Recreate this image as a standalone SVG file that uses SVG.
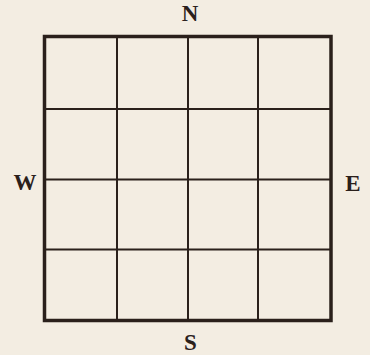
<svg xmlns="http://www.w3.org/2000/svg" width="370" height="355" viewBox="0 0 370 355">
  <style>
    .bg { fill: #f3ede2; }
    .outer { fill: none; stroke: #2a201b; stroke-width: 3.5; stroke-linejoin: miter; }
    .inner { stroke: #2a201b; stroke-width: 2; fill: none; }
    .lbl { font-family: "Liberation Serif", "Times New Roman", serif; font-size: 23px; fill: #2a201b; text-anchor: middle; }
  </style>
  <rect class="bg" x="0" y="0" width="370" height="355"/>
  <g id="grid">
    <rect class="outer" x="44.5" y="36.5" width="286.5" height="284"/>
    <g id="connectors">
      <line class="inner" x1="117" y1="36.5" x2="117" y2="320.5"/>
      <line class="inner" x1="188" y1="36.5" x2="188" y2="320.5"/>
      <line class="inner" x1="258" y1="36.5" x2="258" y2="320.5"/>
      <line class="inner" x1="44.5" y1="109" x2="331" y2="109"/>
      <line class="inner" x1="44.5" y1="179.5" x2="331" y2="179.5"/>
      <line class="inner" x1="44.5" y1="249.5" x2="331" y2="249.5"/>
    </g>
  </g>
  <g id="label-n"><text class="lbl" x="190" y="20.5" font-weight="bold">N</text></g>
  <g id="label-s"><text class="lbl" x="190.5" y="350" font-weight="bold">S</text></g>
  <g id="label-w"><text class="lbl" x="25" y="189.5" font-weight="bold" font-size="26px">W</text></g>
  <g id="label-e"><text class="lbl" x="353" y="191" font-weight="bold" font-size="24px">E</text></g>
</svg>
